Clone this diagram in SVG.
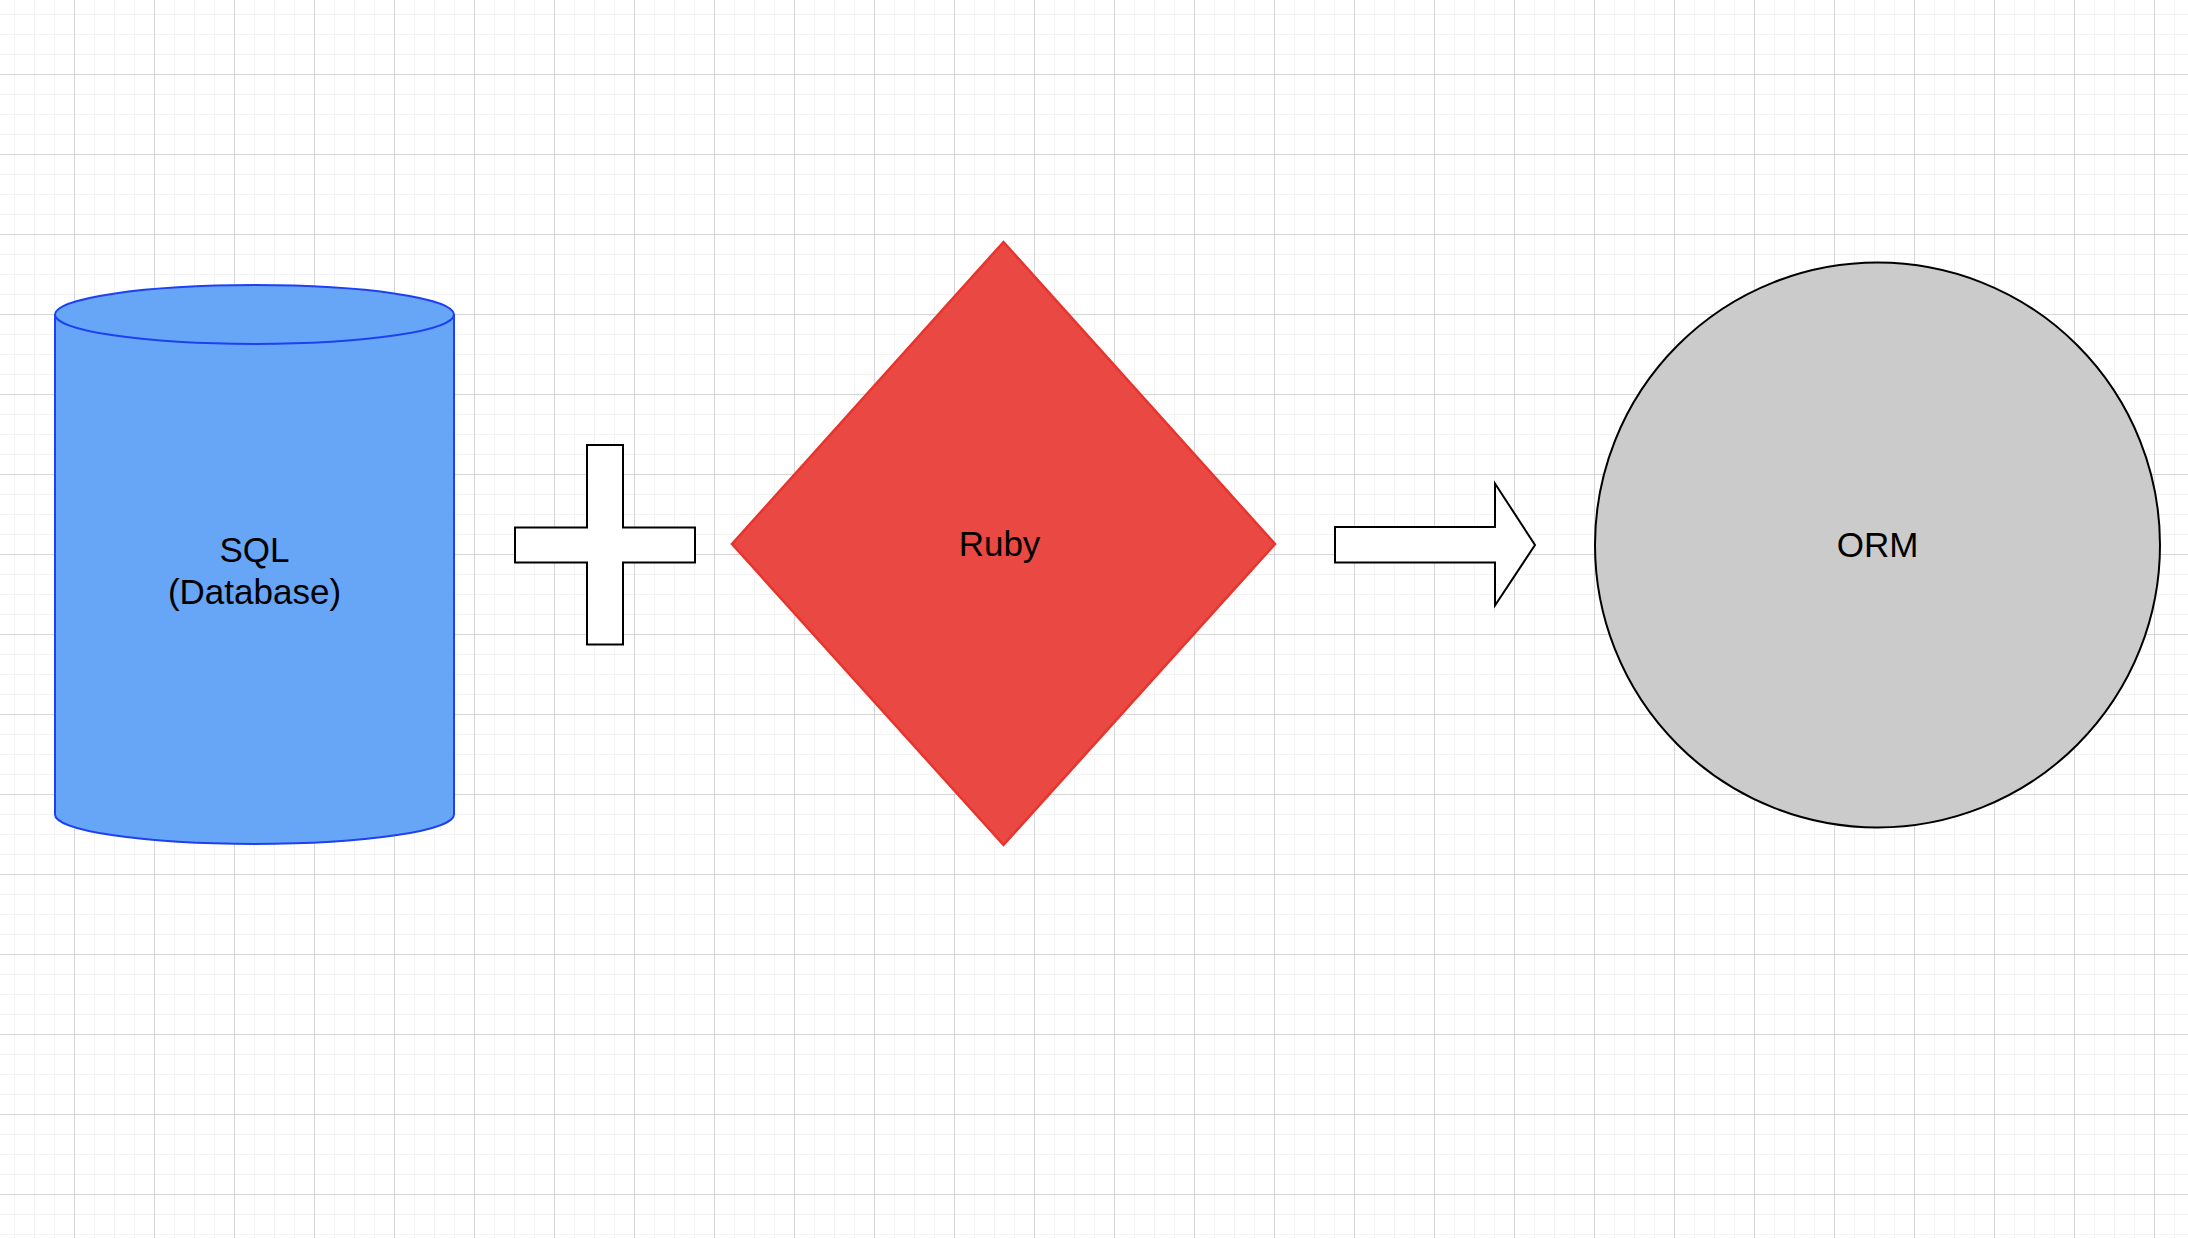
<svg xmlns="http://www.w3.org/2000/svg" width="2188" height="1238" viewBox="0 0 2188 1238">
  <defs>
    <pattern id="minor" x="14" y="14" width="20" height="20" patternUnits="userSpaceOnUse">
      <path d="M0 0H20M0 0V20" fill="none" stroke="#f0f0f0" stroke-width="1.5"/>
    </pattern>
    <pattern id="major" x="74" y="74" width="80" height="80" patternUnits="userSpaceOnUse">
      <path d="M0 0H80M0 0V80" fill="none" stroke="#cdcdcd" stroke-width="1.5"/>
    </pattern>
  </defs>
  <style>
    .lbl { font-family: "Liberation Sans", Arial, sans-serif; font-size: 35px; fill: #000; text-anchor: middle; }
    .outline { fill: #ffffff; stroke: #000; stroke-width: 2; }
  </style>
  <rect width="2188" height="1238" fill="#ffffff"/>
  <rect width="2188" height="1238" fill="url(#minor)"/>
  <rect width="2188" height="1238" fill="url(#major)"/>

  <g id="sql">
    <path d="M55 314.5 A199.5 29.5 0 0 1 454 314.5 L454 814.5 A199.5 29.5 0 0 1 55 814.5 Z" fill="#67a5f7" stroke="#1d40f2" stroke-width="2"/>
    <path d="M55 314.5 A199.5 29.5 0 0 0 454 314.5" fill="none" stroke="#1d40f2" stroke-width="2"/>
    <text class="lbl" x="254.5" y="562">SQL</text>
    <text class="lbl" x="254.5" y="604">(Database)</text>
  </g>

  <g id="plus">
    <path class="outline" d="M587 445 H623 V527.5 H695 V562.5 H623 V644.5 H587 V562.5 H515 V527.5 H587 Z"/>
  </g>

  <g id="ruby">
    <path d="M1003.5 242 L1275 544 L1003.5 845 L732 544 Z" fill="#ea4842" stroke="#e8342c" stroke-width="2.5"/>
    <text class="lbl" x="999.5" y="556">Ruby</text>
  </g>

  <g id="arrow">
    <path class="outline" d="M1335 527 H1495 V483.5 L1535 545 L1495 605.5 V562.5 H1335 Z"/>
  </g>

  <g id="orm">
    <circle cx="1877.5" cy="545" r="282.5" fill="#cbcbcb" stroke="#000" stroke-width="2"/>
    <text class="lbl" x="1877.5" y="557">ORM</text>
  </g>

  <g id="connectors"/>
</svg>
